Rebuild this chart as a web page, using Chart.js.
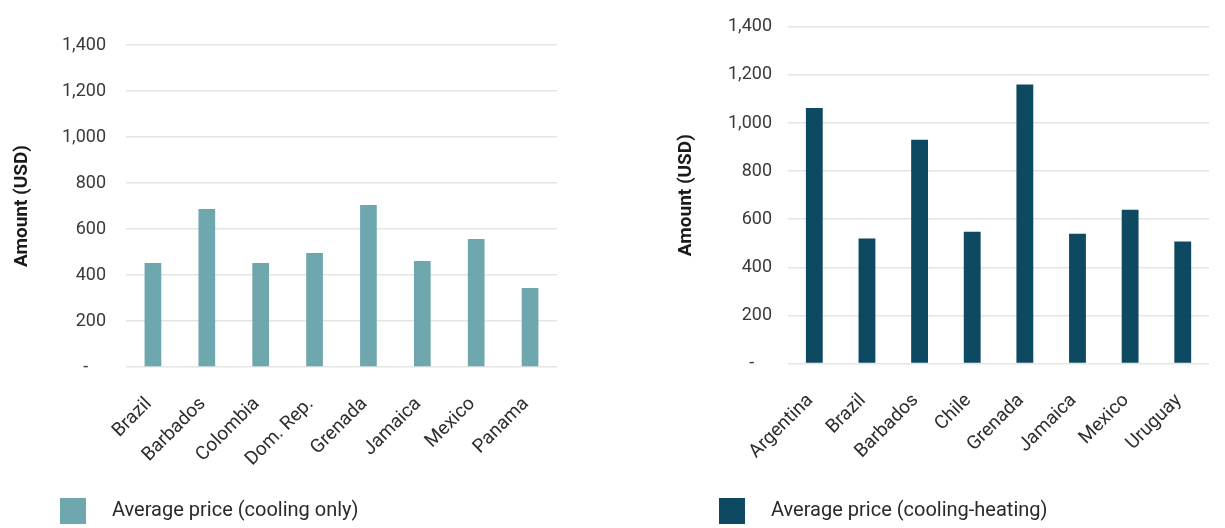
<!DOCTYPE html>
<html>
<head>
<meta charset="utf-8">
<script src="https://cdn.jsdelivr.net/npm/chart.js@4.4.1/dist/chart.umd.min.js"></script>
<style>
  html, body { margin: 0; padding: 0; background: #ffffff; }
  #wrap { position: relative; width: 1225px; height: 528px; overflow: hidden; }
  .pane { position: absolute; top: 0; height: 528px; }
  #leftPane { left: 0; width: 600px; }
  #rightPane { left: 600px; width: 625px; }
</style>
</head>
<body>
<div id="wrap">
  <div class="pane" id="leftPane"><canvas id="coolingChart" width="600" height="528"></canvas></div>
  <div class="pane" id="rightPane"><canvas id="heatingChart" width="625" height="528"></canvas></div>
</div>
<script>
// Average price of air conditioners by country (USD)
const coolingCountries = ['Brazil', 'Barbados', 'Colombia', 'Dom. Rep.', 'Grenada', 'Jamaica', 'Mexico', 'Panama'];
const coolingPrices = [452, 687, 452, 496, 704, 461, 557, 343];

const heatingCountries = ['Argentina', 'Brazil', 'Barbados', 'Chile', 'Grenada', 'Jamaica', 'Mexico', 'Uruguay'];
const heatingPrices = [1062, 520, 930, 548, 1160, 540, 639, 507];

const yTickValues = [0, 200, 400, 600, 800, 1000, 1200, 1400];
const coolingLabel = 'Average price (cooling only)';
const heatingLabel = 'Average price (cooling-heating)';
const yTitle = 'Amount (USD)';

const COOLING_COLOR = '#6ea7ad';
const HEATING_COLOR = '#0e4962';
const FONT = 'Roboto, "Liberation Sans", sans-serif';

Chart.defaults.font.family = FONT;
Chart.defaults.color = '#333333';

// Legend swatch: square on the left, blank gap before the text
function makeSwatch(color, size, totalWidth) {
  const c = document.createElement('canvas');
  c.width = totalWidth;
  c.height = size;
  const ctx = c.getContext('2d');
  ctx.fillStyle = color;
  ctx.fillRect(0, 0, size, size);
  return c;
}

// Moves the legend block to a fixed horizontal position
const legendPlacement = {
  id: 'legendPlacement',
  afterLayout(chart, args, opts) {
    const lg = chart.legend;
    if (!lg) return;
    const w = lg.width, h = lg.height;
    lg.left = opts.left;
    lg.right = opts.left + w;
    lg.top += opts.dy || 0;
    lg.bottom = lg.top + h;
  }
};

function formatTick(value) {
  if (value === 0) return '-    ';
  return value.toLocaleString('en-US');
}

function buildChart(canvasId, labels, values, color, seriesLabel, geo) {
  const swatch = makeSwatch(color, 26, 42);
  return new Chart(document.getElementById(canvasId), {
    type: 'bar',
    data: {
      labels: labels,
      datasets: [{
        label: seriesLabel,
        data: values,
        backgroundColor: color,
        borderWidth: 0,
        categoryPercentage: 1.0,
        barPercentage: geo.barPct,
        pointStyle: swatch
      }]
    },
    options: {
      responsive: false,
      animation: false,
      devicePixelRatio: 1,
      layout: { padding: { top: geo.top, right: geo.right, bottom: 0, left: 0 } },
      plugins: {
        legend: {
          position: 'bottom',
          align: 'start',
          labels: {
            usePointStyle: true,
            pointStyleWidth: 42,
            padding: 10,
            color: '#2a2a2a',
            font: { size: 20 }
          }
        },
        tooltip: { enabled: false },
        legendPlacement: { left: geo.legendLeft, dy: 3 }
      },
      scales: {
        x: {
          grid: { display: false, drawTicks: false },
          border: { display: false },
          ticks: {
            minRotation: 45,
            maxRotation: 45,
            padding: geo.xPad,
            labelOffset: -4,
            color: '#2e2e2e',
            font: { size: 19 }
          },
          afterFit(scale) { scale.height = geo.xHeight; }
        },
        y: {
          min: 0,
          max: 1400,
          afterBuildTicks(scale) {
            scale.ticks = yTickValues.map(v => ({ value: v }));
          },
          grid: { color: '#e4e4e4', lineWidth: 1.5, drawTicks: false },
          border: { display: false },
          ticks: {
            padding: geo.yPad,
            color: '#3a3a3a',
            font: { size: 18 },
            callback: formatTick
          },
          title: {
            display: true,
            text: yTitle,
            color: '#1a1a1a',
            font: { size: 19, weight: 'bold' },
            padding: { top: geo.titleOffset, bottom: 0 }
          },
          afterFit(scale) { scale.width = geo.yWidth; }
        }
      }
    },
    plugins: [legendPlacement]
  });
}

buildChart('coolingChart', coolingCountries, coolingPrices, COOLING_COLOR, coolingLabel, {
  top: 45, right: 43, yWidth: 126, yPad: 20, titleOffset: 11,
  xHeight: 121, xPad: 26, barPct: 0.31, legendLeft: 50
});

buildChart('heatingChart', heatingCountries, heatingPrices, HEATING_COLOR, heatingLabel, {
  top: 23, right: 2, yWidth: 188, yPad: 16, titleOffset: 75,
  xHeight: 124.5, xPad: 26, barPct: 0.32, legendLeft: 109
});
</script>
</body>
</html>
